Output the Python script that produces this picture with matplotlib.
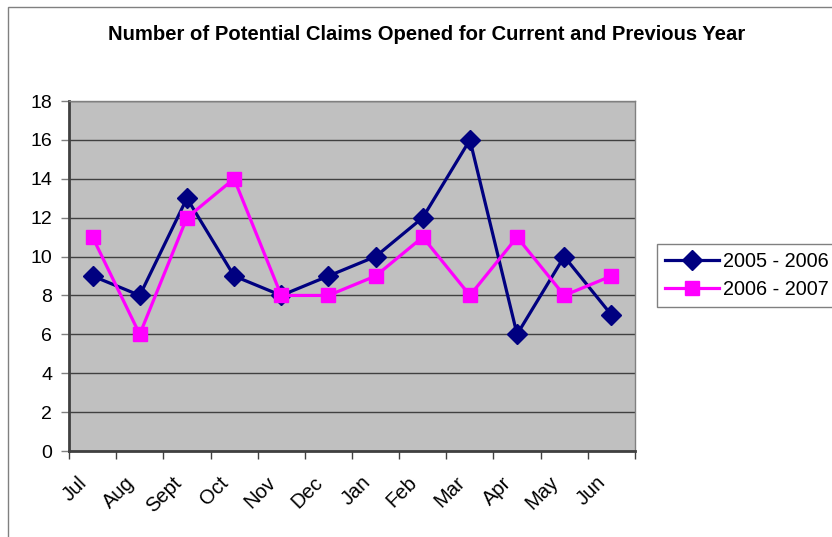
import matplotlib
matplotlib.use("Agg")
from matplotlib import pyplot as plt
from matplotlib.patches import Rectangle
from matplotlib.transforms import ScaledTranslation
import numpy as np

plt.rcParams['font.family'] = ['Liberation Sans', 'DejaVu Sans']

# data
months = ["Jul", "Aug", "Sept", "Oct", "Nov", "Dec", "Jan", "Feb", "Mar", "Apr", "May", "Jun"]
claims_2005_2006 = [9, 8, 13, 9, 8, 9, 10, 12, 16, 6, 10, 7]
claims_2006_2007 = [11, 6, 12, 14, 8, 8, 9, 11, 8, 11, 8, 9]
y_ticks = [0, 2, 4, 6, 8, 10, 12, 14, 16, 18]

W, H = 832, 537
fig = plt.figure(figsize=(W / 100, H / 100), dpi=100)

# chart area border (runs off the right and bottom of the picture)
fig.patches.append(Rectangle((8 / W, -0.1), 1.2, 1 - 7 / H + 0.1, transform=fig.transFigure,
                             fill=False, edgecolor="#808080", linewidth=1.0))

ax = fig.add_axes([69 / W, 1 - 451 / H, (635 - 69) / W, (451 - 101) / H])
ax.set_facecolor("#C0C0C0")

x = np.arange(len(months))
ax.plot(x, claims_2005_2006, color="#000080", linewidth=2.3, marker="D",
        markersize=10, label="2005 - 2006", zorder=3)
ax.plot(x, claims_2006_2007, color="#FF00FF", linewidth=2.3, marker="s",
        markersize=10, label="2006 - 2007", zorder=4)

ax.set_xlim(-0.5, len(months) - 0.5)
ax.set_ylim(0, 18)
ax.set_yticks(y_ticks)
ax.set_yticklabels([str(v) for v in y_ticks], fontsize=14)
ax.yaxis.grid(True, color="#404040", linewidth=1.0)
ax.set_axisbelow(True)
ax.tick_params(axis="y", length=6, width=1, color="#808080", pad=6)

# ticks at category boundaries, labels at category centres
ax.set_xticks(np.arange(-0.5, len(months), 1.0))
ax.set_xticklabels([])
ax.tick_params(axis="x", which="major", length=6, width=1, color="#404040")
ax.set_xticks(x, minor=True)
ax.set_xticklabels(months, minor=True, rotation=45, ha="right", va="top",
                   rotation_mode="anchor", fontsize=14.5)
ax.tick_params(axis="x", which="minor", length=0, pad=10)
shift = ScaledTranslation(-15 / 100, -8 / 100, fig.dpi_scale_trans)
for lbl in ax.get_xticklabels(minor=True):
    lbl.set_transform(lbl.get_transform() + shift)

for side in ["left", "bottom"]:
    ax.spines[side].set_color("#404040")
    ax.spines[side].set_linewidth(2.0)
for side in ["top", "right"]:
    ax.spines[side].set_color("#808080")
    ax.spines[side].set_linewidth(1.0)

fig.text(427 / W, 1 - 35 / H, "Number of Potential Claims Opened for Current and Previous Year",
         ha="center", va="center", fontsize=14.6, fontweight="bold")

leg = fig.legend(loc="upper left", bbox_to_anchor=(657 / W, 1 - 244 / H), fontsize=14.3,
                 frameon=True, fancybox=False, edgecolor="#606060", borderpad=0.4,
                 handlelength=2.7, handletextpad=0.2, labelspacing=0.45, borderaxespad=0)
leg.get_frame().set_linewidth(1.0)

fig.savefig("out.png", dpi=100)
